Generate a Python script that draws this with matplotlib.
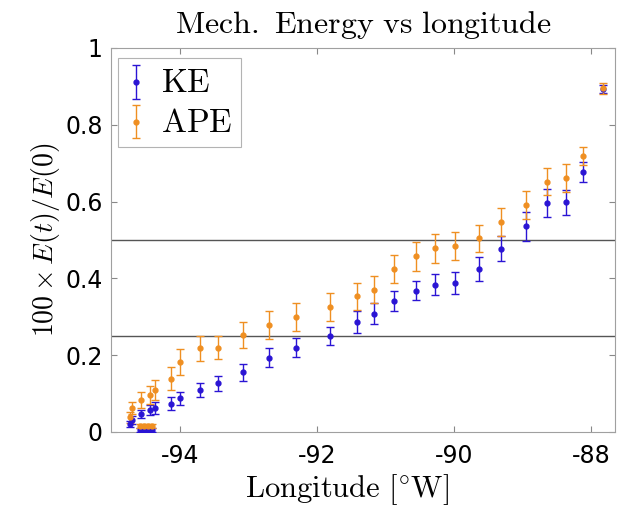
import numpy as np
import matplotlib
matplotlib.use('Agg')
import matplotlib.pyplot as plt

plt.rcParams['mathtext.fontset'] = 'cm'
plt.rcParams['axes.unicode_minus'] = False

# Longitude of each section (deg W, negative)
lon = [-94.73, -94.69, -94.56, -94.43, -94.36, -94.13, -94.00, -93.71, -93.44,
       -93.08, -92.69, -92.31, -91.80, -91.42, -91.16, -90.87, -90.56, -90.27,
       -89.99, -89.63, -89.31, -88.95, -88.64, -88.36, -88.12, -87.83]

# near-zero cluster
lon_low = [-94.58, -94.52, -94.46, -94.40]

ke = [0.020, 0.031, 0.047, 0.057, 0.062, 0.074, 0.088, 0.109, 0.127,
      0.156, 0.194, 0.220, 0.250, 0.287, 0.308, 0.341, 0.368, 0.384,
      0.388, 0.424, 0.477, 0.536, 0.597, 0.598, 0.677, 0.893]
ke_err = [0.008, 0.010, 0.011, 0.014, 0.016, 0.018, 0.017, 0.019, 0.020,
          0.022, 0.025, 0.025, 0.024, 0.029, 0.027, 0.027, 0.025, 0.027,
          0.028, 0.031, 0.033, 0.038, 0.036, 0.032, 0.027, 0.010]

ape = [0.038, 0.063, 0.083, 0.096, 0.109, 0.139, 0.182, 0.218, 0.220,
       0.252, 0.279, 0.300, 0.326, 0.353, 0.371, 0.424, 0.458, 0.478,
       0.484, 0.504, 0.547, 0.591, 0.652, 0.661, 0.718, 0.895]
ape_err = [0.014, 0.015, 0.020, 0.024, 0.026, 0.029, 0.033, 0.033, 0.030,
           0.034, 0.036, 0.036, 0.036, 0.036, 0.036, 0.037, 0.038, 0.037,
           0.036, 0.036, 0.037, 0.037, 0.035, 0.037, 0.024, 0.015]

ke_low = [0.006, 0.006, 0.006, 0.006]
ape_low = [0.016, 0.016, 0.015, 0.015]
low_err = [0.005, 0.005, 0.005, 0.005]

blue = '#2a14d4'
orange = '#ef8f22'

fig = plt.figure(figsize=(6.42, 5.11), dpi=100)
ax = fig.add_axes([0.173, 0.1546, 0.785, 0.7515])

ax.axhline(0.5, color='#555555', lw=1, zorder=1)
ax.axhline(0.25, color='#555555', lw=1, zorder=1)

ax.errorbar(lon + lon_low, ke + ke_low, yerr=ke_err + low_err, fmt='o', color=blue,
            ms=3.5, capsize=3, elinewidth=1, capthick=1, label=r'$\mathrm{KE}$', zorder=3)
ax.errorbar(lon + lon_low, ape + ape_low, yerr=ape_err + low_err, fmt='o', color=orange,
            ms=3.5, capsize=3, elinewidth=1, capthick=1, label=r'$\mathrm{APE}$', zorder=3)

ax.set_xlim(-95, -87.65)
ax.set_ylim(0, 1)
ax.set_xticks([-94, -92, -90, -88])
ax.set_yticks([0, 0.2, 0.4, 0.6, 0.8, 1])
ax.set_yticklabels(['0', '0.2', '0.4', '0.6', '0.8', '1'])
ax.tick_params(direction='in', top=True, right=True, length=4, width=0.8,
               color='#888888', labelsize=17)
ax.tick_params(axis='x', pad=9)
ax.tick_params(axis='y', pad=6)
for s in ax.spines.values():
    s.set_color('#a0a0a0')

ax.set_title(r'$\mathrm{Mech.\ Energy\ vs\ longitude}$', fontsize=23, pad=11)
ax.set_xlabel(r'$\mathrm{Longitude\ [^{\circ}W]}$', fontsize=22)
ax.xaxis.set_label_coords(0.468, -0.105)
ax.xaxis.label.set_va('top')
ax.set_ylabel(r'$100\times E(t)/E(0)$', fontsize=20, labelpad=2)

leg = ax.legend(loc='upper left', bbox_to_anchor=(0.014, 0.974), borderaxespad=0,
                fontsize=24, fancybox=False, edgecolor='#a0a0a0', handleheight=0.45,
                handlelength=0.6, handletextpad=0.45, borderpad=0.25, labelspacing=0.2)
leg.get_frame().set_linewidth(0.8)

fig.savefig('out.png', dpi=100)
